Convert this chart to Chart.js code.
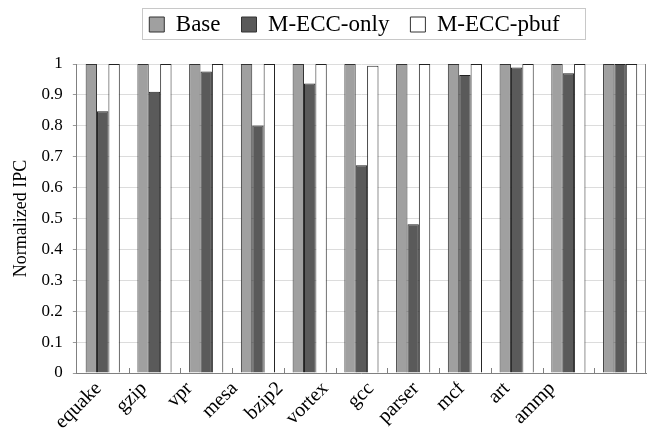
<!DOCTYPE html>
<html>
<head>
<meta charset="utf-8">
<script src="https://cdn.jsdelivr.net/npm/chart.js@4/dist/chart.umd.min.js"></script>
<style>
  html, body { margin: 0; padding: 0; background: #fff; }
  #wrap { width: 649px; height: 441px; }
</style>
</head>
<body>
<div id="wrap"><canvas id="ipc"></canvas></div>
<script>
var benchmarks = ['equake', 'gzip', 'vpr', 'mesa', 'bzip2', 'vortex', 'gcc', 'parser', 'mcf', 'art', 'ammp'];
var baseIPC = [1, 1, 1, 1, 1, 1, 1, 1, 1, 1, 1];
var eccOnlyIPC = [0.847, 0.910, 0.976, 0.801, 0.937, 0.672, 0.481, 0.964, 0.989, 0.970, 1.0];
var eccPbufIPC = [1, 1, 1, 1, 1, 0.994, 1, 1, 1, 1, 1];
var yTicks = [0, 0.1, 0.2, 0.3, 0.4, 0.5, 0.6, 0.7, 0.8, 0.9, 1];

var serif = 'Liberation Serif';

// legend spacing, centring + frame, plot right edge and small inward x ticks
var framePlugin = {
    id: 'frame',
    beforeInit: function(chart){
        var fit = chart.legend.fit;
        chart.legend.fit = function(){
            fit.call(this);
            this.height += 18;
        };
    },
    afterLayout: function(chart){
        var lg = chart.legend;
        var area = chart.chartArea;
        var shift = (area.left + area.right) / 2 - (lg.left + lg.right) / 2 - 7;
        lg.left += shift;
        lg.right += shift;
        lg.legendHitBoxes.forEach(function(b){ b.left += shift; });
    },
    afterDraw: function(chart){
        var ctx = chart.ctx;
        var area = chart.chartArea;
        var hb = chart.legend.legendHitBoxes;
        ctx.save();
        ctx.strokeStyle = '#c8c8c8';
        ctx.lineWidth = 1;
        var last = hb[hb.length - 1];
        var cy = hb[0].top + hb[0].height / 2;
        var bx = Math.round(hb[0].left - 7) + 0.5;
        var br = Math.round(last.left + last.width + 25) + 0.5;
        var by = Math.round(cy - 17) + 0.5;
        ctx.strokeRect(bx, by, br - bx, 31);
        ctx.strokeStyle = '#808080';
        ctx.beginPath();
        ctx.moveTo(area.right - 0.5, area.top);
        ctx.lineTo(area.right - 0.5, area.bottom);
        var x = chart.scales.x;
        var step = x.getPixelForTick(1) - x.getPixelForTick(0);
        for (var i = 1; i < benchmarks.length; i++){
            var px = Math.round(x.getPixelForTick(i) - step / 2) + 0.5;
            ctx.moveTo(px, area.bottom);
            ctx.lineTo(px, area.bottom - 5);
        }
        ctx.stroke();
        ctx.restore();
    }
};

var ctx = document.getElementById('ipc').getContext('2d');
var ipcChart = new Chart(ctx, {
    type: 'bar',
    data: {
        labels: benchmarks,
        datasets: [{
            label: 'Base',
            data: baseIPC,
            backgroundColor: '#a0a0a0',
            borderColor: '#333333',
            borderWidth: 1
        }, {
            label: 'M-ECC-only',
            data: eccOnlyIPC,
            backgroundColor: '#5a5a5a',
            borderColor: '#222222',
            borderWidth: 1
        }, {
            label: 'M-ECC-pbuf',
            data: eccPbufIPC,
            backgroundColor: '#ffffff',
            borderColor: '#222222',
            borderWidth: 1
        }]
    },
    options: {
        responsive: true,
        maintainAspectRatio: false,
        animation: false,
        layout: { padding: { top: -8, right: 3, left: 10, bottom: 0 } },
        datasets: { bar: { barPercentage: 1.0, categoryPercentage: 0.66 } },
        plugins: {
            legend: {
                position: 'top',
                labels: {
                    font: { family: serif, size: 23 },
                    color: '#000',
                    boxWidth: 15,
                    boxHeight: 15,
                    padding: 21,
                    generateLabels: function(chart){
                        return chart.data.datasets.map(function(ds, i){
                            return {
                                text: ds.label,
                                fillStyle: ds.backgroundColor,
                                strokeStyle: '#333',
                                lineWidth: 1,
                                datasetIndex: i
                            };
                        });
                    }
                }
            },
            tooltip: { enabled: false }
        },
        scales: {
            x: {
                grid: { display: false },
                border: { color: '#808080' },
                ticks: { display: false }
            },
            // label axis: same names, spaced a bit tighter like the source figure
            xl: {
                type: 'linear',
                position: 'bottom',
                offset: false,
                bounds: 'data',
                min: -0.48,
                max: 12.07,
                afterBuildTicks: function(axis){
                    axis.ticks = benchmarks.map(function(name, i){ return { value: i }; });
                },
                afterFit: function(axis){
                    axis.height = 60;
                },
                grid: { display: false, offset: false },
                border: { display: false },
                ticks: {
                    font: { family: serif, size: 20 },
                    color: '#000',
                    maxRotation: 45,
                    minRotation: 45,
                    autoSkip: false,
                    padding: -12,
                    callback: function(v){ return benchmarks[v]; }
                }
            },
            y: {
                min: 0,
                max: 1,
                afterBuildTicks: function(axis){
                    axis.ticks = yTicks.map(function(v){ return { value: v }; });
                },
                grid: { color: '#dcdcdc', tickColor: '#9a9a9a', tickLength: 4 },
                border: { color: '#808080' },
                ticks: {
                    font: { family: serif, size: 17 },
                    color: '#000',
                    padding: 10,
                    callback: function(v){ return String(Math.round(v * 10) / 10); }
                },
                title: {
                    display: true,
                    text: 'Normalized IPC',
                    font: { family: serif, size: 18 },
                    color: '#000',
                    padding: { top: 0, bottom: 0 }
                }
            }
        }
    },
    plugins: [framePlugin]
});
</script>
</body>
</html>
